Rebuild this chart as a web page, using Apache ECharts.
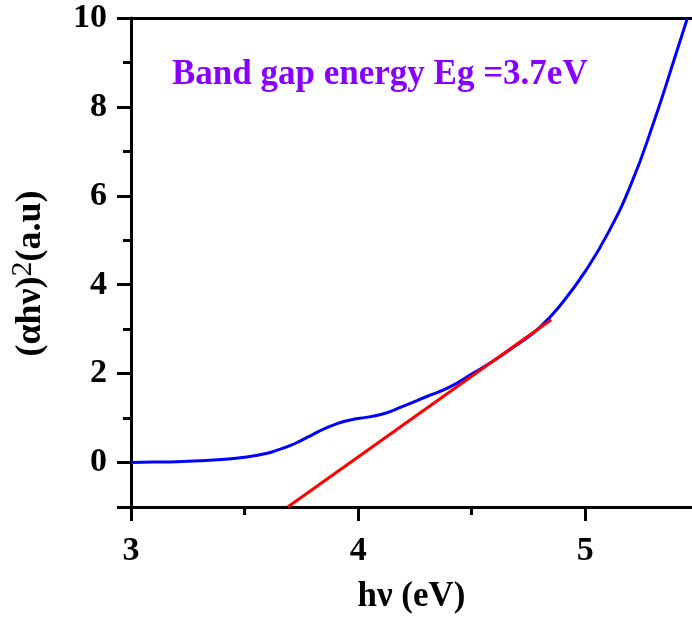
<!DOCTYPE html>
<html><head><meta charset="utf-8">
<script src="https://cdn.jsdelivr.net/npm/echarts@6/dist/echarts.min.js"></script>
<style>html,body{margin:0;padding:0;background:#fff}#c{width:692px;height:620px}</style>
</head><body><div id="c"></div>
<script>
const energy = [3.0,3.1,3.2,3.3,3.4,3.5,3.6,3.65,3.7,3.75,3.8,3.85,3.9,3.95,4.0,4.1,4.2,4.3,4.4,4.5,4.6,4.7,4.8,4.9,5.0,5.1,5.2,5.3,5.4,5.45];
const absorb = [0.0,0.01,0.02,0.04,0.07,0.12,0.21,0.29,0.38,0.5,0.63,0.76,0.86,0.94,0.99,1.08,1.27,1.48,1.69,1.99,2.3,2.65,3.04,3.6,4.3,5.16,6.24,7.63,9.2,10.0];
const fitX = [3.69, 4.85];
const fitY = [-1, 3.21];
const xTicks = [3,4,5];
const yTicks = [0,2,4,6,8,10];
const yMinor = [1,3,5,7,9];
const titleText = 'Band gap energy Eg =3.7eV';

const font = '"Liberation Serif","Times New Roman",serif';
const black = '#000';
const chart = echarts.init(document.getElementById('c'));
chart.setOption({
  animation:false,
  grid:{left:130,right:0,top:18,bottom:113},
  title:{text:titleText,left:167,top:52,textStyle:{color:'#8800ff',fontFamily:font,fontWeight:'bold',fontSize:35}},
  xAxis:[{type:'value',min:3,max:5.47,interval:1,
    axisLine:{onZero:false,lineStyle:{color:black,width:3}},
    axisTick:{length:14,lineStyle:{width:3,color:black},customValues:xTicks},
    minorTick:{show:true,splitNumber:2,length:8,lineStyle:{width:3,color:black}},
    splitLine:{show:false},minorSplitLine:{show:false},
    axisLabel:{color:black,fontFamily:font,fontWeight:'bold',fontSize:34,margin:27,customValues:xTicks,
      formatter:v=>String(v)},
    name:'hν (eV)',nameLocation:'middle',nameGap:72,
    nameTextStyle:{color:black,fontFamily:font,fontWeight:'bold',fontSize:35}
  },{type:'value',position:'top',min:3,max:5.47,
    axisLine:{onZero:false,lineStyle:{color:black,width:3}},
    axisTick:{show:false},axisLabel:{show:false},splitLine:{show:false}
  }],
  yAxis:[{type:'value',min:-1,max:10,
    axisLine:{onZero:false,lineStyle:{color:black,width:3}},
    axisTick:{length:14,lineStyle:{width:3,color:black},customValues:yTicks.concat([-1])},
    splitLine:{show:false},
    axisLabel:{color:black,fontFamily:font,fontWeight:'bold',fontSize:34,margin:24,
      customValues:yTicks,formatter:v=>String(v)},
    name:'{a|(αhν)}{s|2}{a|(a.u)}',nameLocation:'middle',nameGap:77,nameRotate:90,
    nameTextStyle:{padding:[0,22,0,0],rich:{
      a:{color:black,fontFamily:font,fontWeight:'bold',fontSize:36},
      s:{color:black,fontFamily:font,fontSize:30,verticalAlign:'top',padding:[0,0,16,0]}}}
  },{type:'value',position:'left',min:-1,max:10,
    axisLine:{show:false,onZero:false},axisLabel:{show:false},splitLine:{show:false},
    axisTick:{length:8,lineStyle:{width:3,color:black},customValues:yMinor}}],
  series:[
    {type:'line',data:energy.map((x,i)=>[x,absorb[i]]),smooth:true,showSymbol:false,
      lineStyle:{color:'#0000ff',width:3}},
    {type:'line',data:fitX.map((x,i)=>[x,fitY[i]]),showSymbol:false,
      lineStyle:{color:'#ff0000',width:3}}
  ]
});
</script></body></html>
